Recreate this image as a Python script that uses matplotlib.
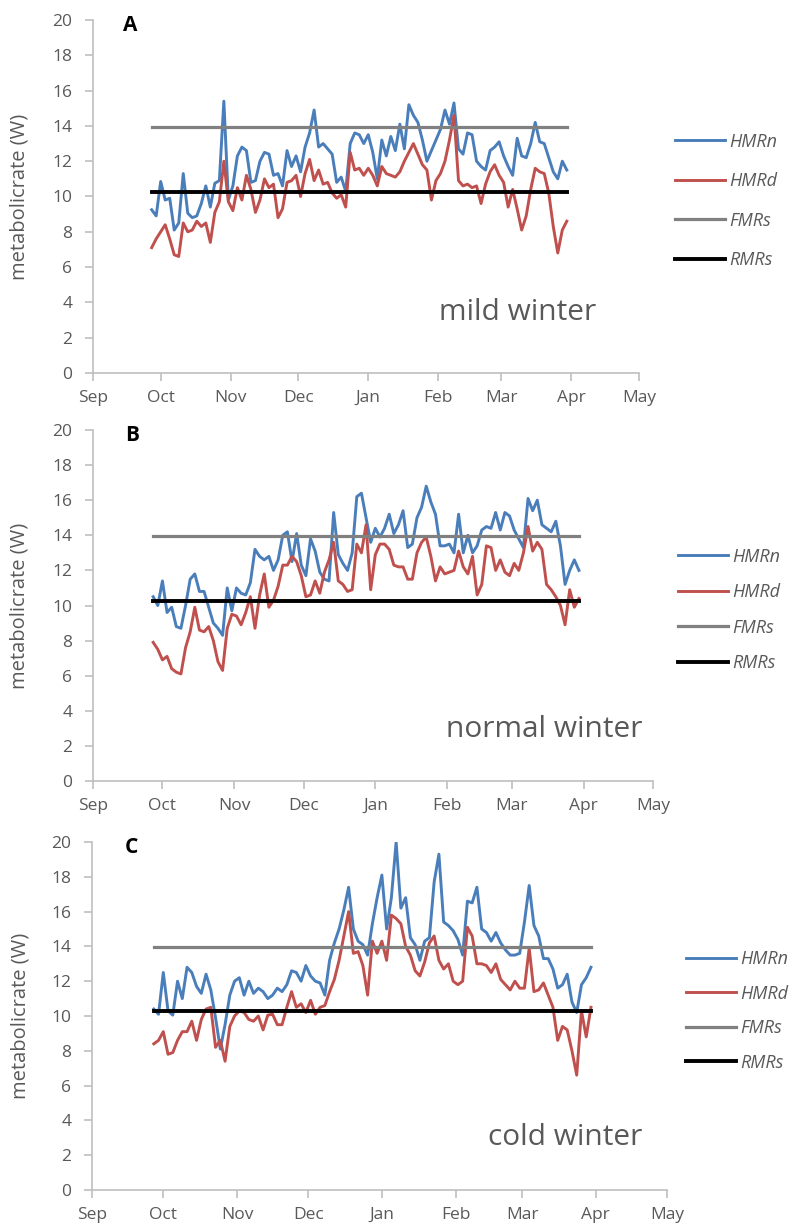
import numpy as np
import matplotlib
matplotlib.use("Agg")
from matplotlib import pyplot as plt

plt.rcParams['font.family'] = ['Open Sans', 'DejaVu Sans']

# x-axis: days counted from 1 September
DAYS = list(range(26, 211, 2))
MONTH_DAYS = [0, 30, 61, 91, 122, 153, 181, 212, 242]
MONTH_LABELS = ["Sep", "Oct", "Nov", "Dec", "Jan", "Feb", "Mar", "Apr", "May"]

FMR = 13.95
RMR = 10.28

mild_hmrn = [9.25, 8.9, 10.85, 9.8, 9.9, 8.1, 8.5, 11.3, 9.05, 8.8,
             8.9, 9.6, 10.6, 9.4, 10.75, 10.9, 15.4, 9.8, 10.6, 12.3,
             12.8, 12.6, 10.8, 10.9, 12.0, 12.5, 12.4, 11.2, 11.3, 10.6,
             12.6, 11.7, 12.3, 11.4, 12.8, 13.6, 14.9, 12.8, 13.0, 12.7,
             12.4, 10.8, 11.1, 10.3, 13.0, 13.6, 13.5, 13.0,
             13.5, 12.5, 11.0, 13.2, 12.3, 13.4, 12.6, 14.1, 12.7, 15.2,
             14.6, 14.2, 13.2, 12.0, 12.6, 13.2, 13.8, 14.9, 14.1, 15.3,
             12.7, 12.4, 13.6, 13.5, 12.0, 11.7, 11.5, 12.6, 12.8, 13.1,
             12.3, 11.7, 11.2, 13.3, 12.3, 12.2, 13.0, 14.2, 13.1, 13.0,
             12.2, 11.4, 11.0, 12.0, 11.5]
mild_hmrd = [7.1, 7.6, 8.0, 8.4, 7.6, 6.7, 6.6, 8.5, 8.0, 8.1,
             8.6, 8.3, 8.5, 7.4, 9.1, 9.7, 12.0, 9.7, 9.2, 10.5,
             9.8, 11.2, 10.4, 9.1, 9.8, 11.0, 10.5, 10.7, 8.8, 9.3,
             10.8, 10.9, 11.2, 10.0, 11.3, 12.1, 10.9, 11.5, 10.7, 10.8,
             10.2, 9.9, 10.1, 9.4, 12.5, 11.5, 11.6, 11.2,
             11.6, 11.2, 10.6, 11.7, 11.3, 11.2, 11.1, 11.4, 12.0, 12.5,
             13.0, 12.4, 11.8, 11.5, 9.8, 10.9, 11.3, 12.0, 13.2, 14.6,
             10.9, 10.6, 10.7, 10.5, 10.6, 9.6, 10.7, 11.4, 11.8, 11.2,
             10.8, 9.4, 10.4, 9.3, 8.1, 8.9, 10.4, 11.6, 11.4, 11.3,
             10.2, 8.3, 6.8, 8.1, 8.6]

normal_hmrn = [10.5, 10.0, 11.4, 9.6, 9.9, 8.8, 8.7, 10.0, 11.5, 11.8,
               10.8, 10.8, 9.9, 9.0, 8.7, 8.3, 11.0, 9.7, 11.0, 10.7,
               10.6, 11.3, 13.2, 12.8, 12.6, 12.8, 12.0, 12.6, 14.0, 14.2,
               12.5, 14.1, 12.3, 11.7, 13.8, 13.1, 11.9, 11.5, 11.4, 15.3,
               12.9, 12.4, 12.0, 13.0, 16.2, 16.4, 15.0, 13.6,
               14.4, 13.9, 14.4, 15.2, 14.1, 14.6, 15.4, 13.3, 13.5, 15.0,
               15.6, 16.8, 15.9, 15.2, 13.4, 13.4, 13.5, 13.0, 15.2, 13.0,
               14.0, 13.0, 13.4, 14.3, 14.5, 14.4, 15.3, 14.3, 15.3, 15.1,
               14.3, 13.8, 13.3, 16.1, 15.4, 16.0, 14.6, 14.4, 14.2, 14.8,
               13.4, 11.2, 12.0, 12.6, 12.0]
normal_hmrd = [7.9, 7.5, 6.9, 7.1, 6.4, 6.2, 6.1, 7.6, 8.5, 9.9,
               8.6, 8.5, 8.8, 8.0, 6.8, 6.3, 8.7, 9.5, 9.4, 8.9,
               9.6, 10.5, 8.7, 10.6, 11.8, 9.9, 10.3, 11.1, 12.3, 12.3,
               12.8, 12.5, 11.7, 10.5, 10.6, 11.4, 10.7, 11.9, 12.6, 13.6,
               11.4, 11.2, 10.8, 10.9, 13.5, 13.0, 14.6, 10.9,
               12.9, 13.5, 13.5, 13.2, 12.3, 12.2, 12.2, 11.5, 11.5, 13.0,
               13.6, 13.9, 12.8, 11.4, 12.2, 11.8, 11.9, 12.0, 13.1, 12.2,
               11.8, 12.8, 10.6, 11.2, 13.4, 13.3, 12.0, 12.6, 11.9, 11.7,
               12.4, 12.0, 13.0, 14.5, 13.1, 13.6, 13.2, 11.2, 10.9, 10.5,
               10.0, 8.9, 10.9, 9.9, 10.4]

cold_hmrn = [10.4, 10.1, 12.5, 10.3, 10.05, 12.0, 11.0, 12.8, 12.5, 11.7,
             11.3, 12.4, 11.5, 9.9, 8.1, 9.5, 11.2, 12.0, 12.2, 11.2,
             12.0, 11.3, 11.6, 11.4, 11.0, 11.2, 11.6, 11.4, 11.8, 12.6,
             12.5, 12.0, 12.9, 12.3, 12.0, 11.9, 11.2, 13.2, 14.2, 15.0,
             16.1, 17.4, 15.0, 14.3, 14.1, 13.5, 15.3, 16.8,
             18.1, 15.0, 16.8, 20.0, 16.2, 16.8, 14.5, 14.1, 13.2, 14.3,
             14.5, 17.7, 19.3, 15.4, 15.2, 14.9, 14.4, 13.5, 16.6, 16.5,
             17.4, 15.0, 14.8, 14.3, 14.8, 14.2, 13.8, 13.5, 13.5, 13.6,
             15.4, 17.5, 15.2, 14.6, 13.3, 13.3, 12.7, 11.6, 11.8, 12.4,
             10.8, 10.2, 11.8, 12.2, 12.8]
cold_hmrd = [8.4, 8.6, 9.1, 7.8, 7.9, 8.6, 9.1, 9.1, 9.7, 8.6,
             9.8, 10.4, 10.5, 8.2, 8.6, 7.4, 9.4, 10.0, 10.3, 10.2,
             9.8, 9.7, 10.0, 9.2, 10.05, 10.1, 9.5, 9.5, 10.5, 11.4,
             10.5, 10.7, 10.2, 10.9, 10.1, 10.5, 10.6, 11.4, 12.1, 13.2,
             14.6, 16.0, 13.6, 13.7, 12.9, 11.2, 14.3, 13.6,
             14.3, 13.2, 15.8, 15.6, 15.3, 14.0, 13.5, 12.6, 12.3, 13.1,
             14.2, 14.6, 13.2, 12.7, 13.0, 12.0, 11.8, 12.0, 15.1, 14.6,
             13.0, 13.0, 12.9, 12.5, 13.0, 12.1, 11.8, 11.5, 12.0, 11.6,
             11.6, 13.9, 11.4, 11.5, 11.9, 11.2, 10.5, 8.6, 9.4, 9.2,
             8.0, 6.6, 10.3, 8.8, 10.5]

W, H = 795, 1230
GREY_TXT = "#595959"
AXIS_COL = "#bfbfbf"

# panel layout in pixels: left, right, top, bottom, legend x, legend y, note position (day, value)
panels = [
    ("A", "mild winter", mild_hmrn, mild_hmrd, (93, 639, 20, 373), (675, 201, 45), (188, 3.45)),
    ("B", "normal winter", normal_hmrn, normal_hmrd, (93, 653, 430, 781), (678, 610, 41), (195, 2.95)),
    ("C", "cold winter", cold_hmrn, cold_hmrd, (92, 667, 842, 1190), (686, 1011, 40), (199, 3.0)),
]

fig = plt.figure(figsize=(W / 100, H / 100), dpi=100)

for letter, note, hmrn, hmrd, box, leg, notepos in panels:
    l, r, t, b = box
    ax = fig.add_axes([l / W, 1 - b / H, (r - l) / W, (b - t) / H])
    ax.plot(DAYS, hmrn, color="#4a7ebb", lw=2.1, label="HMRn")
    ax.plot(DAYS, hmrd, color="#c0504d", lw=2.1, label="HMRd")
    ax.plot(DAYS, np.full(len(DAYS), FMR), color="#808080", lw=2.3, label="FMRs")
    ax.plot(DAYS, np.full(len(DAYS), RMR), color="black", lw=2.8, label="RMRs")

    ax.set_xlim(MONTH_DAYS[0], MONTH_DAYS[-1])
    ax.set_ylim(0, 20)
    ax.set_xticks(MONTH_DAYS)
    ax.set_xticklabels(MONTH_LABELS)
    ax.set_yticks(range(0, 21, 2))
    for s in ["top", "right"]:
        ax.spines[s].set_visible(False)
    for s in ["left", "bottom"]:
        ax.spines[s].set_color(AXIS_COL)
        ax.spines[s].set_linewidth(1.2)
    ax.tick_params(axis="both", direction="out", length=6, width=1.2, color=AXIS_COL,
                   labelcolor=GREY_TXT, labelsize=12.5)
    ax.tick_params(axis="y", pad=9)
    ax.tick_params(axis="x", pad=6)

    ax.set_ylabel("metabolicrate (W)", color=GREY_TXT, fontsize=14.5)
    ax.yaxis.set_label_coords((30 - l) / (r - l), 0.5)

    ax.text(16.7, 19.7, letter, fontsize=15, fontweight="bold", ha="center", va="center",
            color="black", clip_on=False)
    ax.text(notepos[0], notepos[1], note, fontsize=21.5, color=GREY_TXT, ha="center", va="center")

    lx, ly, row = leg
    fs = 13
    fs_px = fs * 100 / 72
    ax.legend(loc="center left", bbox_to_anchor=(lx / W, 1 - ly / H), bbox_transform=fig.transFigure,
              frameon=False, prop={"style": "italic", "size": fs},
              labelcolor=GREY_TXT, handlelength=50 / fs_px, handletextpad=0.25,
              labelspacing=(row - 1.3 * fs_px) / fs_px, borderpad=0, borderaxespad=0)

fig.savefig("out.png", dpi=100)
